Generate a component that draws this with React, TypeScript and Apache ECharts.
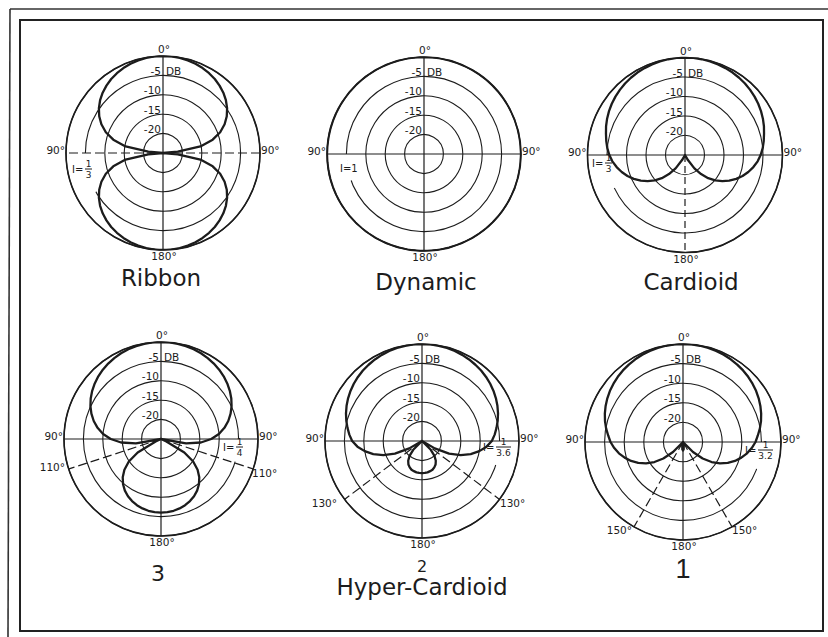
import React, { useEffect, useRef } from "react";
import * as echarts from "echarts";

// ---------- data (dB relative to on-axis, read at these angles, front 0° -> rear 180°) ----------
const ANGLES = [0, 5, 10, 15, 20, 25, 30, 35, 40, 45, 50, 55, 60, 65, 70, 75, 80, 85, 90,
  95, 100, 105, 110, 115, 120, 125, 130, 135, 140, 145, 150, 155, 160, 165, 170, 175, 180];

const RIBBON_DB = [0, 0, -0.13, -0.3, -0.54, -0.85, -1.25, -1.73, -2.32, -3.01, -3.84, -4.83, -6.02, -7.48, -9.32, -11.74, -15.21, -21.19, -25,
  -21.19, -15.21, -11.74, -9.32, -7.48, -6.02, -4.83, -3.84, -3.01, -2.32, -1.73, -1.25, -0.85, -0.54, -0.3, -0.13, 0, 0];
const DYNAMIC_DB = [0, 0, 0, 0, 0, 0, 0, 0, 0, 0, 0, 0, 0, 0, 0, 0, 0, 0, 0,
  0, 0, 0, 0, 0, 0, 0, 0, 0, 0, 0, 0, 0, 0, 0, 0, 0, 0];
const CARDIOID_DB = [0, -0.02, -0.07, -0.15, -0.27, -0.42, -0.6, -0.82, -1.08, -1.38, -1.71, -2.08, -2.5, -2.96, -3.46, -4.02, -4.5, -5.0, -5.6,
  -6.3, -7.2, -8.2, -9.3, -10.5, -11.9, -13.3, -14.9, -16.6, -18.6, -20.8, -23.5, -25, -25, -25, -25, -25, -25];
const HYPER3_DB = [0, -0.02, -0.1, -0.23, -0.4, -0.63, -0.92, -1.27, -1.68, -2.15, -2.71, -3.35, -4.08, -4.93, -5.91, -7.05, -8.4, -10.02, -12.04,
  -14.68, -18.43, -25, -25, -23.48, -18.06, -14.88, -12.69, -11.05, -9.78, -8.77, -7.97, -7.34, -6.84, -6.48, -6.22, -6.07, -6.02];
const HYPER2_DB = [0, -0.02, -0.08, -0.18, -0.32, -0.51, -0.74, -1.01, -1.3, -1.65, -2.05, -2.5, -3.0, -3.55, -4.15, -4.8, -5.5, -6.2, -7.0,
  -8.3, -10.0, -12.0, -14.4, -17.3, -21.2, -25, -25, -21.8, -20.0, -18.8, -18.0, -17.5, -17.1, -16.95, -16.8, -16.75, -16.7];
const HYPER1_DB = [0, -0.02, -0.07, -0.16, -0.29, -0.45, -0.65, -0.89, -1.16, -1.48, -1.85, -2.25, -2.71, -3.22, -3.78, -4.4, -5.08, -5.84, -6.5,
  -7.4, -8.4, -9.6, -10.9, -12.4, -14.1, -16.1, -18.45, -21.4, -25, -25, -25, -25, -25, -25, -23.9, -23.1, -22.85];

const PATTERNS = [RIBBON_DB, DYNAMIC_DB, CARDIOID_DB, HYPER3_DB, HYPER2_DB, HYPER1_DB];
const TITLES = ["Ribbon", "Dynamic", "Cardioid", "3", "2", "1"];
const GROUP_TITLE = "Hyper-Cardioid";
const RING_DB = [-5, -10, -15, -20];
const RING_TEXT = ["-5", "-10", "-15", "-20"];
const I_NUMERATOR = ["1", "1", "1", "1", "1", "1"];
const I_DENOMINATOR = ["3", "", "3", "4", "3.6", "3.2"];
const GUIDE_ANGLE = [0, 0, 0, 108, 127, 150];
const GUIDE_TEXT = ["", "", "", "110°", "130°", "150°"];

// ---------- layout ----------
const INK = "#1c1c1c";
const FONT = "DejaVu Sans";
const LAYOUT = [
  { cx: 163, cy: 153, r: 97, tx: 161, ty: 278, ts: 23, ix: -91, iy: 16, gap: [240, 270], hDash: true, bDash: false, gR: 0, gt: [] as any[] },
  { cx: 424, cy: 154, r: 97, tx: 426, ty: 282, ts: 23, ix: -84, iy: 14, gap: [250, 270], hDash: false, bDash: false, gR: 0, gt: [] as any[] },
  { cx: 685, cy: 155, r: 97.5, tx: 691, ty: 282, ts: 23, ix: -93, iy: 8, gap: [245, 270], hDash: false, bDash: true, gR: 0, gt: [] as any[] },
  { cx: 161, cy: 439, r: 97, tx: 158, ty: 573, ts: 22, ix: 62, iy: 8, gap: [90, 107], hDash: false, bDash: false, gR: 0.8, gt: [[-96, 28, "right"], [91, 34, "left"]] },
  { cx: 422, cy: 441, r: 97, tx: 422, ty: 566, ts: 16, ix: 61, iy: 6, gap: [90, 108], hDash: false, bDash: false, gR: 1.5, gt: [[-85, 62, "right"], [78, 62, "left"]] },
  { cx: 683, cy: 442, r: 98, tx: 683, ty: 569, ts: 27, ix: 62, iy: 8, gap: [90, 110], hDash: false, bDash: false, gR: 0, gt: [[-51, 88, "right"], [49, 88, "left"]] },
];

function text(x: number, y: number, t: string, size: number, align = "center", valign = "middle", family = FONT) {
  return {
    type: "text", x, y, silent: true, z: 10,
    style: { text: t, fill: INK, fontSize: size, fontFamily: family, textAlign: align, textVerticalAlign: valign },
  };
}

function polarLine(i: number, data: any[], style: any, z: number) {
  return {
    type: "line", coordinateSystem: "polar", polarIndex: i, data, symbol: "none", showSymbol: false,
    silent: true, clip: false, z, lineStyle: style, emphasis: { disabled: true },
  };
}

function buildOption() {
  const series: any[] = [];
  const graphic: any[] = [];

  // frame
  graphic.push({ type: "line", shape: { x1: 10, y1: 9, x2: 828, y2: 9 }, style: { stroke: "#333", lineWidth: 1.6 }, silent: true });
  graphic.push({ type: "line", shape: { x1: 10, y1: 9, x2: 8, y2: 637 }, style: { stroke: "#333", lineWidth: 1.6 }, silent: true });
  graphic.push({ type: "rect", shape: { x: 20, y: 20, width: 803, height: 611 }, style: { fill: "none", stroke: "#222", lineWidth: 2 }, silent: true });

  LAYOUT.forEach((p, i) => {
    const dash = [9, 4];
    // gap in the -5 dB ring for the "I =" note
    const gapData: any[] = [];
    for (let a = p.gap[0]; a <= p.gap[1]; a += 1) gapData.push([-5, a]);
    series.push(polarLine(i, gapData, { color: "#ffffff", width: 4 }, 2));

    // axes through the centre
    series.push(polarLine(i, [[0, 0], [-25, 0]], { color: INK, width: 1.2 }, 3));
    series.push(polarLine(i, [[-25, 180], [0, 180]], { color: INK, width: 1.2, type: p.bDash ? [7, 4] : "solid" }, 3));
    series.push(polarLine(i, [[0, 90], [-25, 90], [0, 270]], { color: INK, width: 1.2, type: p.hDash ? dash : "solid" }, 3));
    if (GUIDE_ANGLE[i]) {
      const g = GUIDE_ANGLE[i];
      series.push(polarLine(i, [[-25, g], [p.gR, g]], { color: INK, width: 1.2, type: dash }, 3));
      series.push(polarLine(i, [[-25, 360 - g], [p.gR, 360 - g]], { color: INK, width: 1.2, type: dash }, 3));
    }

    // polar pattern
    const db = PATTERNS[i];
    const data: any[] = [];
    for (let k = 0; k < ANGLES.length; k++) data.push([db[k], ANGLES[k]]);
    for (let k = ANGLES.length - 2; k >= 0; k--) data.push([db[k], 360 - ANGLES[k]]);
    series.push(polarLine(i, data, { color: INK, width: 2.3, join: "round" }, 4));

    // angle labels
    graphic.push(text(p.cx + 1, p.cy - p.r - 7, "0°", 10.5));
    graphic.push(text(p.cx + 1, p.cy + p.r + 6, "180°", 10.5));
    graphic.push(text(p.cx - p.r - 1, p.cy - 3, "90°", 10.5, "right"));
    graphic.push(text(p.cx + p.r + 1, p.cy - 3, "90°", 10.5, "left"));
    p.gt.forEach((g: any) => graphic.push(text(p.cx + g[0], p.cy + g[1], GUIDE_TEXT[i], 10.5, g[2])));

    // ring labels
    RING_DB.forEach((v, k) => {
      const y = p.cy - ((v + 25) / 25) * p.r;
      graphic.push(text(p.cx - 2, y - 4.5, RING_TEXT[k], 10.5, "right"));
      if (k === 0) graphic.push(text(p.cx + 3, y - 4.5, "DB", 10.5, "left"));
    });

    // I = fraction
    const ix = p.cx + p.ix;
    const iy = p.cy + p.iy;
    if (I_DENOMINATOR[i]) {
      graphic.push(text(ix, iy, "I=", 10, "left"));
      const w = I_DENOMINATOR[i].length > 1 ? 15 : 7;
      const fx = ix + 13 + w / 2;
      graphic.push(text(fx, iy - 5, I_NUMERATOR[i], 9));
      graphic.push({ type: "line", silent: true, z: 10, shape: { x1: fx - w / 2, y1: iy, x2: fx + w / 2, y2: iy }, style: { stroke: INK, lineWidth: 1 } });
      graphic.push(text(fx, iy + 5.5, I_DENOMINATOR[i], 9));
    } else {
      graphic.push(text(ix, iy, "I=" + I_NUMERATOR[i], 10, "left"));
    }

    // titles
    graphic.push(text(p.tx, p.ty, TITLES[i], p.ts, "center", "middle", i === 5 ? "Liberation Sans" : FONT));
  });

  graphic.push(text(422, 587, GROUP_TITLE, 23));

  return {
    animation: false,
    backgroundColor: "#ffffff",
    polar: LAYOUT.map((p) => ({ center: [p.cx, p.cy], radius: p.r })),
    angleAxis: LAYOUT.map((_, i) => ({
      polarIndex: i, type: "value", min: 0, max: 360, startAngle: 90, clockwise: true,
      axisLine: { show: true, lineStyle: { color: INK, width: 1.6 } },
      axisTick: { show: false }, axisLabel: { show: false }, splitLine: { show: false }, splitArea: { show: false },
    })),
    radiusAxis: LAYOUT.map((_, i) => ({
      polarIndex: i, type: "value", min: -25, max: 0, interval: 5,
      axisLine: { show: false }, axisTick: { show: false }, axisLabel: { show: false },
      splitLine: { show: true, lineStyle: { color: INK, width: 1.1 } }, splitArea: { show: false },
    })),
    series,
    graphic,
  };
}

export default function App() {
  const ref = useRef<HTMLDivElement>(null);
  useEffect(() => {
    const chart = echarts.init(ref.current as HTMLDivElement, null, { renderer: "svg" });
    chart.setOption(buildOption() as any);
    return () => chart.dispose();
  }, []);
  return <div ref={ref} style={{ position: "fixed", left: 0, top: 0, width: 828, height: 637, background: "#fff" }} />;
}
